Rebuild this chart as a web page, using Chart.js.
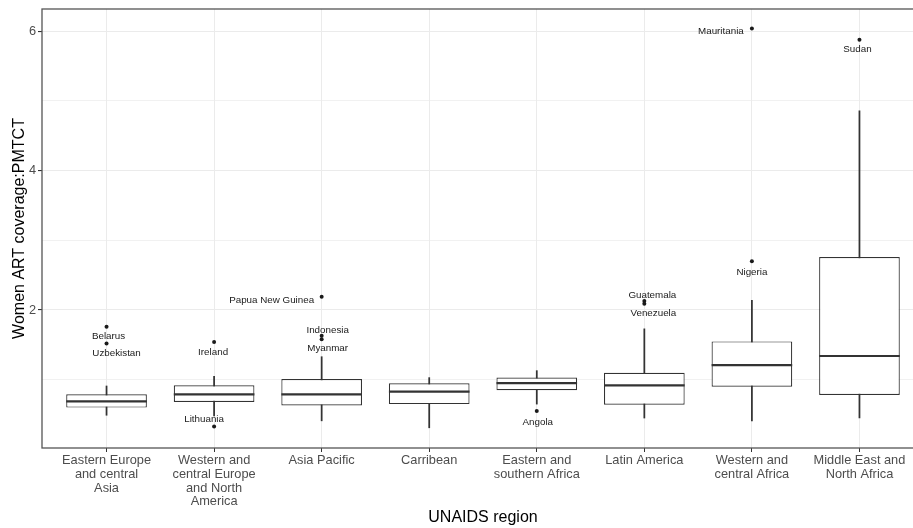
<!DOCTYPE html>
<html>
<head>
<meta charset="utf-8">
<script src="https://cdn.jsdelivr.net/npm/chart.js@4"></script>
<style>
  html, body { margin: 0; padding: 0; background: #fff; overflow: hidden; }
  #wrap { width: 925px; height: 528px; }
</style>
</head>
<body>
<div id="wrap"><canvas id="myChart"></canvas></div>
<script>
// regions on the x axis
const regions = [
  ["Eastern Europe", "and central", "Asia"],
  ["Western and", "central Europe", "and North", "America"],
  ["Asia Pacific"],
  ["Carribean"],
  ["Eastern and", "southern Africa"],
  ["Latin America"],
  ["Western and", "central Africa"],
  ["Middle East and", "North Africa"]
];

// box statistics per region
const whiskerLow  = [0.49, 0.48, 0.41, 0.31, 0.65, 0.45, 0.41, 0.45];
const q1          = [0.60, 0.68, 0.63, 0.65, 0.85, 0.64, 0.90, 0.78];
const medians     = [0.69, 0.79, 0.79, 0.83, 0.95, 0.92, 1.21, 1.34];
const q3          = [0.79, 0.92, 1.01, 0.95, 1.03, 1.10, 1.55, 2.76];
const whiskerHigh = [0.91, 1.05, 1.33, 1.03, 1.13, 1.73, 2.14, 4.86];

// outliers
const outlierCountry = ["Belarus", "Uzbekistan", "Ireland", "Lithuania", "Papua New Guinea",
  "Indonesia", "Myanmar", "Angola", "Guatemala", "Venezuela", "Nigeria", "Mauritania", "Sudan"];
const outlierRegion = [0, 0, 1, 1, 2, 2, 2, 4, 5, 5, 6, 6, 7];
const outlierValue  = [1.76, 1.52, 1.54, 0.33, 2.19, 1.63, 1.58, 0.55, 2.13, 2.09, 2.70, 6.04, 5.88];

const yTicks = [1, 2, 3, 4, 5, 6];

// label nudges in px (dx, dy) from each outlier point
const labelNudge = [[2, 10], [10, 10], [-1, 10], [-10, -7], [-50, 4], [6, -6], [6, 9],
  [1, 11], [8, -6], [9, 10], [0, 11], [-31, 3], [-2, 10]];

const idx = regions.map((r, i) => i);

const panelBorder = {
  id: "panelBorder",
  afterDraw(chart) {
    const { ctx, chartArea: a } = chart;
    ctx.save();
    ctx.strokeStyle = "#555";
    ctx.lineWidth = 1.3;
    ctx.strokeRect(a.left, a.top, a.right - a.left, a.bottom - a.top);
    ctx.restore();
  }
};

const outlierLabels = {
  id: "outlierLabels",
  afterDatasetsDraw(chart) {
    const ctx = chart.ctx;
    const meta = chart.getDatasetMeta(0);
    ctx.save();
    ctx.font = "9.8px 'Liberation Sans', Arial, sans-serif";
    ctx.fillStyle = "#1a1a1a";
    ctx.textAlign = "center";
    ctx.textBaseline = "middle";
    meta.data.forEach((el, i) => {
      ctx.fillText(outlierCountry[i], el.x + labelNudge[i][0], el.y + labelNudge[i][1]);
    });
    ctx.restore();
  }
};

const tickFont = { family: "'Liberation Sans', Arial, sans-serif", size: 12.8, lineHeight: 1.07 };

new Chart(document.getElementById("myChart"), {
  type: "bar",
  data: {
    datasets: [
      {
        type: "scatter",
        label: "outliers",
        data: outlierRegion.map((r, i) => ({ x: r, y: outlierValue[i] })),
        pointRadius: 2,
        pointBackgroundColor: "#1a1a1a",
        pointBorderWidth: 0
      },
      {
        type: "scatter",
        label: "median",
        data: idx.map(i => ({ x: i, y: medians[i] })),
        pointStyle: "line",
        pointRadius: 40.3,
        pointBorderColor: "#333",
        pointBorderWidth: 2.2
      },
      {
        label: "box",
        data: idx.map(i => ({ x: i, y: [q1[i], q3[i]] })),
        backgroundColor: "#fff",
        borderColor: "#333",
        borderWidth: 1.2,
        borderSkipped: false,
        grouped: false,
        categoryPercentage: 1,
        barPercentage: 0.75
      },
      {
        label: "whisker",
        data: idx.map(i => ({ x: i, y: [whiskerLow[i], whiskerHigh[i]] })),
        backgroundColor: "#333",
        borderWidth: 0,
        grouped: false,
        barThickness: 1.1
      }
    ]
  },
  options: {
    responsive: true,
    maintainAspectRatio: false,
    animation: false,
    events: [],
    layout: { autoPadding: false, padding: { top: 9, right: 1, left: 0, bottom: 0 } },
    plugins: { legend: { display: false }, tooltip: { enabled: false } },
    scales: {
      x: {
        type: "linear",
        min: -0.6,
        max: 7.6,
        offset: false,
        afterBuildTicks: s => { s.ticks = idx.map(v => ({ value: v })); },
        afterFit: s => { s.height = 80; },
        border: { display: false },
        grid: { offset: false, color: "#ebebeb", lineWidth: 1, tickColor: "#333", tickLength: 4 },
        ticks: {
          padding: 2,
          color: "#4d4d4d",
          font: tickFont,
          maxRotation: 0,
          autoSkip: false,
          callback: v => regions[v]
        },
        title: {
          display: true,
          text: "UNAIDS region",
          color: "#000",
          font: { family: "'Liberation Sans', Arial, sans-serif", size: 16 },
          padding: { top: 0, bottom: 0.5 }
        }
      },
      y: {
        min: 0.02,
        max: 6.32,
        afterBuildTicks: s => { s.ticks = yTicks.map(v => ({ value: v })); },
        afterFit: s => { s.width = 42; },
        border: { display: false },
        grid: {
          color: "#ebebeb",
          lineWidth: c => (c.tick && c.tick.value % 2 === 0 ? 1.1 : 0.7),
          tickColor: c => (c.tick && c.tick.value % 2 === 0 ? "#333" : "rgba(0,0,0,0)"),
          tickLength: 4
        },
        ticks: {
          padding: 2,
          color: "#4d4d4d",
          font: tickFont,
          callback: v => (v % 2 === 0 ? String(v) : "")
        },
        title: {
          display: true,
          text: "Women ART coverage:PMTCT",
          color: "#000",
          font: { family: "'Liberation Sans', Arial, sans-serif", size: 16 },
          padding: { top: 10, bottom: 0 }
        }
      }
    }
  },
  plugins: [panelBorder, outlierLabels]
});
</script>
</body>
</html>
